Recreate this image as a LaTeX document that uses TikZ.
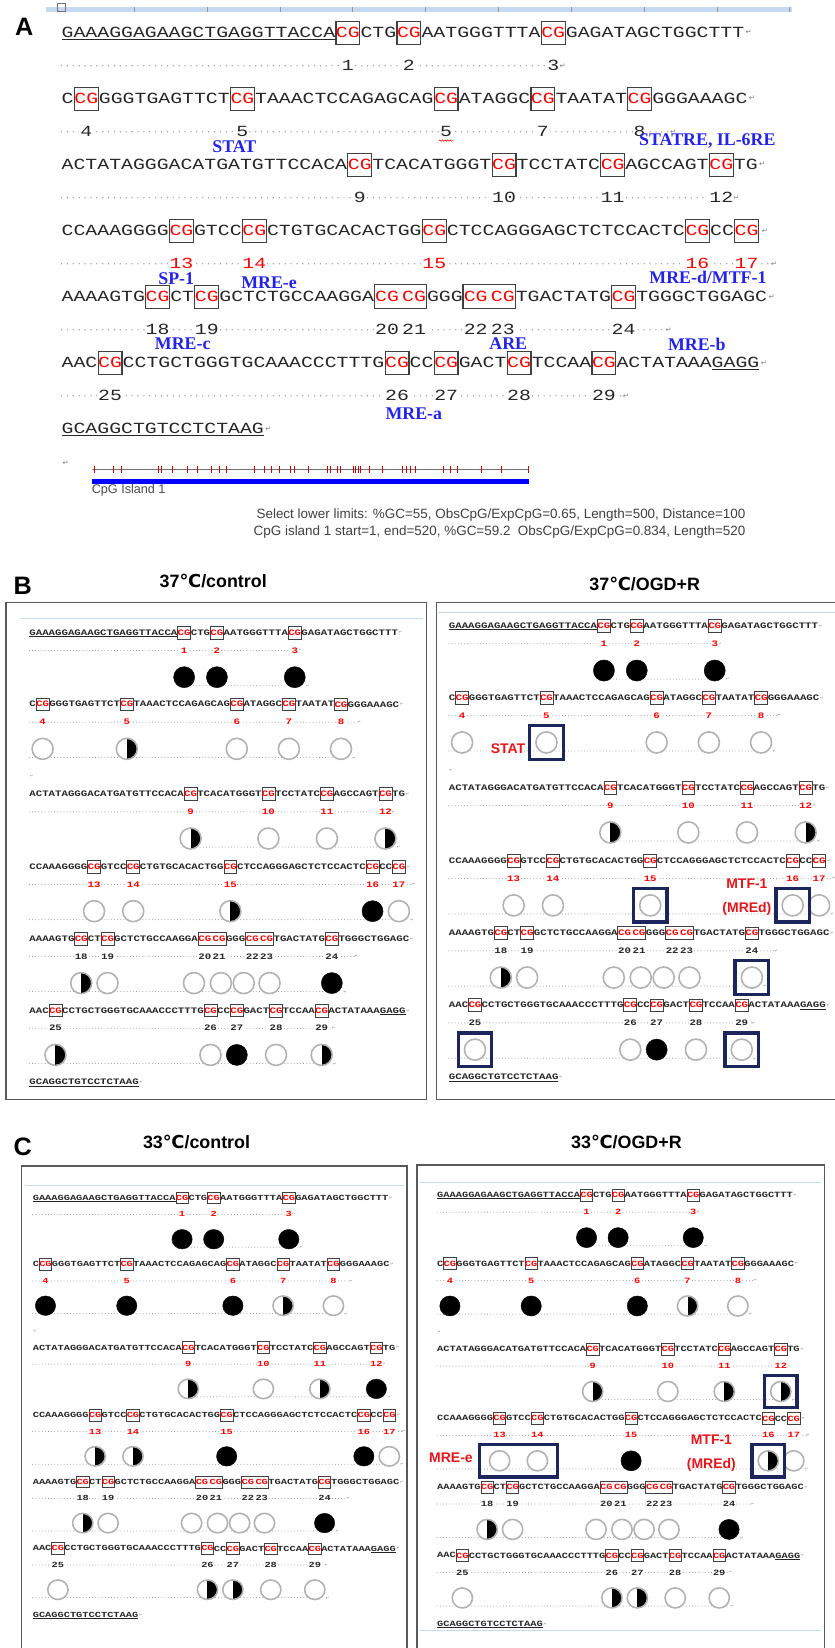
\documentclass[tikz,border=0pt]{standalone}
\usepackage{fontspec}
\usetikzlibrary{positioning,fit,decorations.pathmorphing}

\newfontfamily\seqfont[FakeStretch=1.28]{Liberation Mono}
\newfontfamily\symfont{DejaVu Sans}
\newfontfamily\labfont{Liberation Sans}
\newfontfamily\sitefont{Liberation Serif}

\definecolor{sitecol}{RGB}{35,35,235}
\definecolor{navy}{RGB}{28,38,92}
\definecolor{rulerblue}{RGB}{198,217,241}
\definecolor{markred}{RGB}{232,22,28}

% sizes that the small panels change
\newcommand{\boxw}{1.1pt}
\newcommand{\dotgap}{5.6pt}
\newcommand{\dotw}{1.3pt}
\newcommand{\seqweight}{\mdseries}
\newcommand{\sixlabel}{6}
\newcommand{\redfrom}{1}

\tikzset{
  seq/.style={font=\seqfont\seqweight\fontsize{14.73}{16}\selectfont, text=black!85,
    inner sep=0pt, text height=9.4pt, text depth=0pt},
  cgbox/.style={seq, text=red, draw=black!75, line width=\boxw,
    inner xsep=0pt, text height=15.7pt, text depth=6.3pt},
  cgin/.style={cgbox, draw=none, inner xsep=0.3pt},
  cgline/.style={draw=black!75, line width=\boxw},
  num/.style={seq, fill=white, inner xsep=1pt},
  ret/.style={font=\symfont\fontsize{7}{7}\selectfont, text=black!50, inner sep=0.5pt},
  dotrow/.style={black!45, line width=\dotw, line cap=round, dash pattern=on 0pt off \dotgap},
  cO/.style={circle, minimum size=37pt, inner sep=0pt, draw=black!30, line width=1.5pt, fill=white},
  cF/.style={circle, minimum size=37pt, inner sep=0pt, draw=black, fill=black},
  cH/.style={cO, path picture={\fill[black] (path picture bounding box.north)
    rectangle (path picture bounding box.south east);}},
  cshift/.code={%
    \ifnum#1=20 \pgfkeysalso{xshift=-19pt}\fi
    \ifnum#1=21 \pgfkeysalso{xshift=3pt}\fi
    \ifnum#1=22 \pgfkeysalso{xshift=-15pt}\fi
    \ifnum#1=23 \pgfkeysalso{xshift=5pt}\fi},
  panel/.style={font=\labfont\bfseries\fontsize{24}{24}\selectfont, inner sep=0pt},
  title/.style={font=\labfont\bfseries\fontsize{17}{17}\selectfont, inner sep=0pt},
  site/.style={font=\sitefont\bfseries\fontsize{17}{17}\selectfont, text=sitecol, inner sep=0pt},
  hltext/.style={font=\labfont\bfseries\fontsize{13.3}{14}\selectfont, text=markred, inner sep=0pt},
  hlbox/.style={draw=navy, line width=3.2pt, inner sep=5.5pt},
  stats/.style={font=\labfont\fontsize{12.8}{13}\selectfont, text=black!75, inner sep=0pt},
  plotlab/.style={font=\labfont\fontsize{12}{12}\selectfont, text=black!70, inner sep=0pt},
  frame/.style={draw=black!65, line width=1.3pt},
  pageline/.style={draw=rulerblue, line width=0.8pt},
  tickred/.style={draw=red!80!black, line width=0.9pt}
}

% prefix, line, y, pre/id/style list, last id, tail
\newcommand{\seqrow}[6]{%
  \coordinate (#1cgs#2) at (0,#3);
  \foreach \pre/\id/\sty [remember=\id as \prevcg (initially s#2)] in {#4}{
    \node[seq, right=0pt of #1cg\prevcg] (#1t\id) {\pre};
    \node[\sty, right=0pt of #1t\id] (#1cg\id) {CG};
  }
  \node[seq, right=0pt of #1cg#5] (#1e#2) {#6};
  \node[ret, right=0.5pt of #1e#2] (#1r#2) {↵};
}

% prefix, line, y, ids, last id, shift of the mark
\newcommand{\numrow}[6]{%
  \node[ret, xshift=#6] (#1rn#2) at (#1cg#5 |- 0,#3) {↵};
  \draw[dotrow] (0,#3) -- (#1rn#2.west);
  \foreach \id in {#4}{
    \ifnum\id<\redfrom\relax\def\ncol{black!85}\else
      \ifnum\id>17\relax\def\ncol{black!85}\else\def\ncol{red}\fi\fi
    \node[num, text=\ncol] (#1n\id) at (#1cg\id |- 0,#3) {\ifnum\id=6 \sixlabel\else\id\fi};
  }
}

% prefix, y, first id, states, start of dots, last id
\newcommand{\circrow}[6]{%
  \draw[dotrow] (#5 |- 0,#2+15) -- (#1cg#6 |- 0,#2+15);
  \foreach \st [count=\id from #3] in {#4}{
    \node[c\st, cshift=\id] (#1c\id) at (#1cg\id |- 0,#2) {};
  }
  \node[ret, xshift=23pt, yshift=-16pt] at (#1c#6) {↵};
}

\newcommand{\seqpanel}[8]{%
  \seqrow{#1}{1}{#2}{\underline{GAAAGGAGAAGCTGAGGTTACCA}/1/cgbox, CTG/2/cgbox, AATGGGTTTA/3/cgbox}{3}{GAGATAGCTGGCTTT}
  \numrow{#1}{1}{#2+31.5}{1,2,3}{3}{9}
  \seqrow{#1}{2}{#3}{C/4/cgbox, GGGTGAGTTCT/5/cgbox, TAAACTCCAGAGCAG/6/cgbox, ATAGGC/7/cgbox, TAATAT/8/cgbox}{8}{GGGAAAGC}
  \numrow{#1}{2}{#3+31.5}{4,...,8}{8}{32}
  \seqrow{#1}{3}{#4}{ACTATAGGGACATGATGTTCCACA/9/cgbox, TCACATGGGT/10/cgbox, TCCTATC/11/cgbox, AGCCAGT/12/cgbox}{12}{TG}
  \numrow{#1}{3}{#4+31.5}{9,...,12}{12}{14}
  \seqrow{#1}{4}{#5}{CCAAAGGGG/13/cgbox, GTCC/14/cgbox, CTGTGCACACTGG/15/cgbox, CTCCAGGGAGCTCTCCACTC/16/cgbox, CC/17/cgbox}{17}{}
  \numrow{#1}{4}{#5+31.5}{13,...,17}{17}{26}
  \seqrow{#1}{5}{#6}{AAAAGTG/18/cgbox, CT/19/cgbox, GCTCTGCCAAGGA/20/cgin, /21/cgin, GGG/22/cgin, /23/cgin, TGACTATG/24/cgbox}{24}{TGGGCTGGAGC}
  \draw[cgline] (#1cg20.north west) rectangle (#1cg21.south east);
  \draw[cgline] (#1cg22.north west) rectangle (#1cg23.south east);
  \numrow{#1}{5}{#6+31.5}{18,...,24}{24}{43}
  \seqrow{#1}{6}{#7}{AAC/25/cgbox, CCTGCTGGGTGCAAACCCTTTG/26/cgbox, CC/27/cgbox, GACT/28/cgbox, TCCAA/29/cgbox}{29}{ACTATAAA\underline{GAGG}}
  \numrow{#1}{6}{#7+31.5}{25,...,29}{29}{21}
  \node[seq, anchor=west] (#1t30) at (0,#8) {\underline{GCAGGCTGTCCTCTAAG}};
  \node[ret, right=0.5pt of #1t30] (#1r7) {↵};
}

% prefix and the states of the six lines of circles
\newcommand{\cpgmarks}[7]{%
  \circrow{#1}{78.4}{1}{#2}{#1cg1}{3}
  \circrow{#1}{126+78.4}{4}{#3}{#1cgs2}{8}
  \circrow{#1}{283.7+78.4}{9}{#4}{#1cg9}{12}
  \circrow{#1}{411.5+78.4}{13}{#5}{#1cgs4}{17}
  \circrow{#1}{538+78.4}{18}{#6}{#1cgs5}{24}
  \circrow{#1}{664.3+78.4}{25}{#7}{#1cgs6}{29}
  \node[ret] (#1par) at (4,253) {↵};
}

\begin{document}
\begin{tikzpicture}[x=1pt,y=-1pt]
  \fill[white] (0,0) rectangle (794,1568);
  \useasboundingbox (0,0) rectangle (794,1568);

  % A
  \fill[rulerblue] (43.5,6.3) rectangle (754,11.5);
  \foreach \t in {0,...,9}
    \draw[black!40, line width=0.8pt] (127.8+69.3*\t,7) -- ++(0,4);
  \draw[black!55, line width=0.6pt] (55,3.5) rectangle (62,10.5);
  \node[panel] (pa) at (23,25.8) {A};

  \begin{scope}[shift={(58.5,0)}]
    \renewcommand{\sixlabel}{5}\renewcommand{\redfrom}{13}
    \seqpanel{a}{31.1}{93.9}{156.7}{219.5}{282.3}{345.1}{407.9}
  \end{scope}
  \draw[red, line width=0.5pt, decorate, decoration={snake, amplitude=0.7pt, segment length=2.5pt}]
    ([yshift=-3.5pt]an6.south west) -- ([yshift=-3.5pt]an6.south east);

  \node[site] (stat) at (223,139.8) {STAT};
  \node[site] (statre) at (673,134.2) {STATRE, IL-6RE};
  \node[site] (sp1) at (167.7,265.6) {SP-1};
  \node[site] (mree) at (256,268.8) {MRE-e};
  \node[site] (mred) at (673.6,263.7) {MRE-d/MTF-1};
  \node[site] (mrec) at (173.8,327.1) {MRE-c};
  \node[site] (are) at (483.6,327.1) {ARE};
  \node[site] (mreb) at (663,328) {MRE-b};
  \node[site] (mrea) at (393.7,393.7) {MRE-a};

  \node[ret] (apar) at (62.4,440.6) {↵};
  \draw[black!55, line width=0.8pt] (87.8,447) -- (503.1,447);
  \foreach \t in {90.3,107.8,115.7,151.2,153.7,163.9,178.1,188.0,201.3,208.6,215.5,241.9,
      251.4,258.4,265.6,276.7,280.5,293.2,311.6,314.1,320.8,324.3,336.0,338.2,340.8,343.3,
      351.9,363.9,382.9,386.7,390.9,395.6,421.6,428.9,435.3,458.1,477.1,502.4}
    \draw[tickred] (\t,443.8) -- (\t,450.2);
  \fill[blue] (87.8,455.5) rectangle (503.1,460.5);
  \node[plotlab, anchor=west] (island) at (87.2,466.9) {CpG Island 1};
  \node[stats, anchor=east] (limits) at (709.4,490.4)
    {Select lower limits: \%GC=55, ObsCpG/ExpCpG=0.65, Length=500, Distance=100};
  \node[stats, anchor=east] (island1) at (709.4,506.5)
    {CpG island 1 start=1, end=520, \%GC=59.2 \ ObsCpG/ExpCpG=0.834, Length=520};

  % B
  \node[panel] (pb) at (21.6,557.5) {B};
  \node[title] (tbl) at (202.9,553.2) {37{\symfont ℃}/control};
  \node[title] (tbr) at (613.4,555.2) {37{\symfont ℃}/OGD+R};
  \draw[frame] (5.7,573.2) rectangle (405.7,1046);
  \draw[frame] (800,573.2) -| (415.2,1046) -- (800,1046);
  \draw[pageline] (20,588) -- (402,588);
  \draw[pageline] (417,582.5) -- (794,582.5);

  \begin{scope}[shift={(27.9,601.9)}, xscale=0.541, yscale=0.541, transform shape]
    \renewcommand{\boxw}{0.6pt}\renewcommand{\dotgap}{3pt}\renewcommand{\dotw}{0.9pt}
    \renewcommand{\seqweight}{\bfseries}
    \seqpanel{bl}{0}{126}{283.7}{411.5}{538}{664.3}{790.8}
    \cpgmarks{bl}{F,F,F}{O,H,O,O,O}{H,O,O,H}{O,O,H,F,O}{H,O,O,O,O,O,F}{H,O,F,O,H}
  \end{scope}

  \begin{scope}[shift={(427,595.4)}, xscale=0.542, yscale=0.543, transform shape]
    \renewcommand{\boxw}{0.6pt}\renewcommand{\dotgap}{3pt}\renewcommand{\dotw}{0.9pt}
    \renewcommand{\seqweight}{\bfseries}
    \seqpanel{br}{0}{126}{283.7}{411.5}{538}{664.3}{790.8}
    \cpgmarks{br}{F,F,F}{O,O,O,O,O}{H,O,O,H}{O,O,O,O,O}{H,O,O,O,O,O,O}{O,O,F,O,O}
  \end{scope}
  \node[hlbox, fit=(brc5)] (brh5) {};
  \node[hlbox, fit=(brc15)] (brh15) {};
  \node[hlbox, fit=(brc16)] (brh16) {};
  \node[hlbox, fit=(brc24)] (brh24) {};
  \node[hlbox, fit=(brc25)] (brh25) {};
  \node[hlbox, fit=(brc29)] (brh29) {};
  \node[hltext] (brstat) at ([xshift=-19pt, yshift=-5.6pt]brh5.west) {STAT};
  \node[hltext] (brmtf) at ([xshift=-26pt, yshift=20.3pt]brh16.west) {MTF-1};
  \node[hltext] (brmre) at ([xshift=-26pt, yshift=-3.3pt]brh16.west) {(MREd)};

  % C
  \node[panel] (pc) at (21.6,1090.7) {C};
  \node[title] (tcl) at (187,1086.5) {33{\symfont ℃}/control};
  \node[title] (tcr) at (596,1086.5) {33{\symfont ℃}/OGD+R};
  \draw[frame] (20.6,1580) |- (387.4,1109.4) -- (387.4,1580);
  \draw[frame] (396.9,1580) |- (784.5,1108.4) -- (784.5,1580);
  \draw[pageline] (24,1127.8) -- (384,1127.8);
  \draw[pageline] (400,1125) -- (781,1125);
  \draw[pageline] (400,1551) -- (781,1551);

  \begin{scope}[shift={(31.1,1139.7)}, xscale=0.522, yscale=0.502, transform shape]
    \renewcommand{\boxw}{0.6pt}\renewcommand{\dotgap}{3pt}\renewcommand{\dotw}{0.9pt}
    \renewcommand{\seqweight}{\bfseries}
    \seqpanel{cl}{0}{126}{283.7}{411.5}{538}{664.3}{790.8}
    \cpgmarks{cl}{F,F,F}{F,F,F,H,O}{H,O,H,F}{H,H,F,F,O}{H,O,O,O,O,O,F}{O,H,H,O,O}
  \end{scope}

  \begin{scope}[shift={(415.9,1137.1)}, xscale=0.522, yscale=0.516, transform shape]
    \renewcommand{\boxw}{0.6pt}\renewcommand{\dotgap}{3pt}\renewcommand{\dotw}{0.9pt}
    \renewcommand{\seqweight}{\bfseries}
    \seqpanel{cr}{0}{126}{283.7}{411.5}{538}{664.3}{790.8}
    \cpgmarks{cr}{F,F,F}{F,F,F,H,O}{H,O,H,H}{O,O,F,H,O}{H,O,O,O,O,O,F}{O,H,H,O,O}
  \end{scope}
  \node[hlbox, fit=(crc12)] (crh12) {};
  \node[hlbox, fit=(crc13)(crc14), inner xsep=9pt] (crh13) {};
  \node[hlbox, fit=(crc16)] (crh16) {};
  \node[hltext] (crmree) at ([xshift=-25.6pt, yshift=2.8pt]crh13.west) {MRE-e};
  \node[hltext] (crmtf) at ([xshift=-37pt, yshift=20.3pt]crh16.west) {MTF-1};
  \node[hltext] (crmre) at ([xshift=-37pt, yshift=-3.9pt]crh16.west) {(MREd)};
\end{tikzpicture}
\end{document}
